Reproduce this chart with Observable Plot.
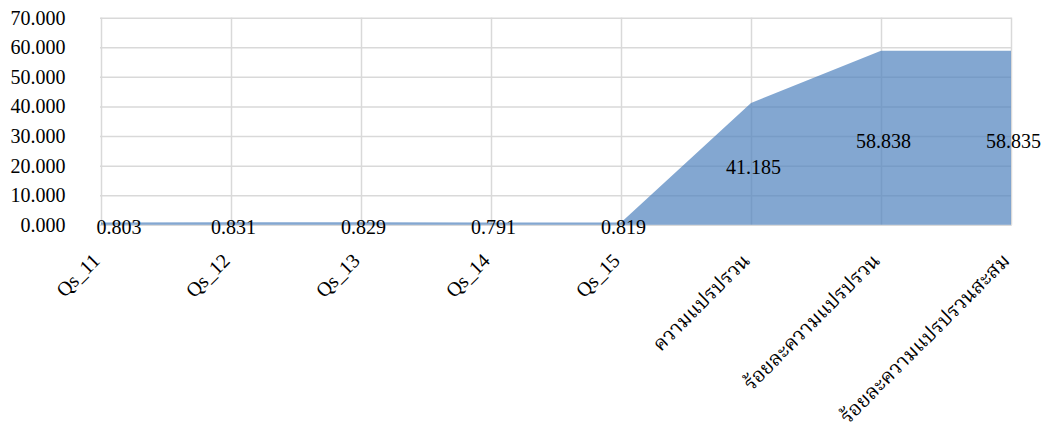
<!DOCTYPE html>
<html>
<head>
<meta charset="utf-8">
<script src="https://cdn.jsdelivr.net/npm/d3@7"></script>
<script src="https://cdn.jsdelivr.net/npm/@observablehq/plot@0.6"></script>
<style>
  html, body { margin: 0; padding: 0; background: #fff; }
  #chart svg, #chart svg text {
    font-family: "Liberation Serif", "Times New Roman", "Norasi", "Kinnari", "Noto Serif Thai", "Garuda", "Loma", "Noto Sans Thai Looped", serif !important;
    font-size: 20px;
  }
</style>
</head>
<body>
<div id="chart"></div>
<script>
// Factor loadings and variance summary
const categories = ["Qs_11", "Qs_12", "Qs_13", "Qs_14", "Qs_15", "ความแปรปรวน", "ร้อยละความแปรปรวน", "ร้อยละความแปรปรวนสะสม"];
const values = [0.803, 0.831, 0.829, 0.791, 0.819, 41.185, 58.838, 58.835];
const yTicks = [0, 10, 20, 30, 40, 50, 60, 70];

const data = categories.map((category, i) => ({category, value: values[i], i}));
const fmt = d3.format(".3f");

const chart = Plot.plot({
  width: 1049,
  height: 429,
  marginTop: 17.7,
  marginBottom: 204.2,
  marginLeft: 100,
  marginRight: 37.3,
  style: {fontSize: "20px", color: "#000", background: "#fff"},
  x: {type: "point", domain: categories, padding: 0},
  y: {domain: [0, 70]},
  marks: [
    Plot.gridY(yTicks, {stroke: "#d9d9d9", strokeOpacity: 1, strokeWidth: 1.5}),
    Plot.gridX(categories, {stroke: "#d9d9d9", strokeOpacity: 1, strokeWidth: 1.5}),
    Plot.areaY(data, {x: "category", y: "value", fill: "#4f81bd", fillOpacity: 0.7}),
    // value labels sit at the middle of the filled height
    Plot.text(data.filter(d => d.i === 0), {x: "category", y: d => d.value / 2, text: d => fmt(d.value), textAnchor: "start", dx: -5, dy: 3.5, fill: "#000"}),
    Plot.text(data.filter(d => d.i > 0), {x: "category", y: d => d.value / 2, text: d => fmt(d.value), dx: 2, dy: 3.5, fill: "#000"}),
    Plot.axisY(yTicks, {tickSize: 0, tickPadding: 35, tickFormat: fmt, label: null, fill: "#000"}),
    Plot.axisX({tickSize: 0, tickPadding: 32, dx: -5, tickRotate: -45, label: null, fill: "#000"})
  ]
});
document.getElementById("chart").appendChild(chart);
</script>
</body>
</html>
